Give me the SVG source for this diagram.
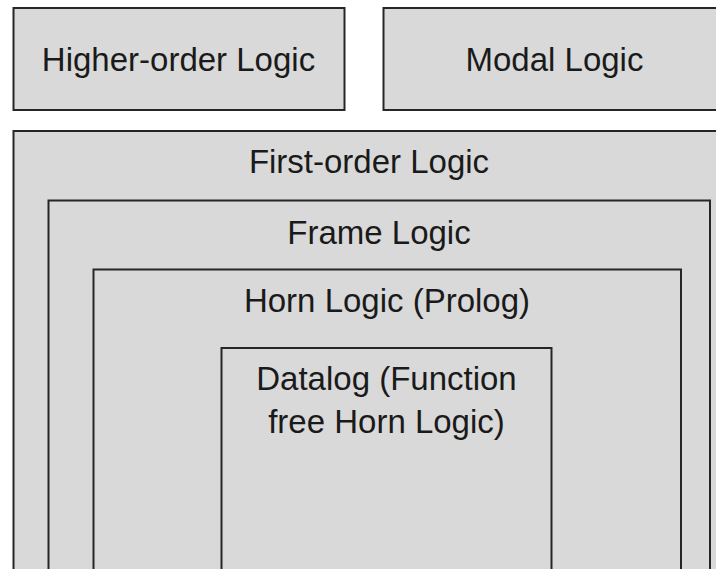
<svg xmlns="http://www.w3.org/2000/svg" width="716" height="569" viewBox="0 0 716 569">
  <style>
    .box { fill: #d9d9d9; stroke: #262626; stroke-width: 2; }
    .label { font-family: "Liberation Sans", Arial, sans-serif; font-size: 33px; fill: #1a1a1a; text-anchor: middle; }
  </style>
  <rect width="716" height="569" fill="#ffffff"/>

  <g id="higher-order-logic">
    <rect class="box" x="13.5" y="8" width="331" height="102"/>
    <text class="label" x="178.5" y="71">Higher-order Logic</text>
  </g>

  <g id="modal-logic">
    <rect class="box" x="383.5" y="8" width="345" height="102"/>
    <text class="label" x="554.5" y="71">Modal Logic</text>
  </g>

  <g id="first-order-logic">
    <rect class="box" x="13.5" y="131" width="715" height="460"/>
    <text class="label" x="369" y="173">First-order Logic</text>
  </g>

  <g id="frame-logic">
    <rect class="box" x="48.5" y="200.5" width="661.5" height="390"/>
    <text class="label" x="379" y="243.5">Frame Logic</text>
  </g>

  <g id="horn-logic">
    <rect class="box" x="93.5" y="269.5" width="587.5" height="320"/>
    <text class="label" x="387" y="312">Horn Logic (Prolog)</text>
  </g>

  <g id="datalog">
    <rect class="box" x="221.5" y="348" width="330" height="240"/>
    <text class="label" x="386.5" y="390">Datalog (Function</text>
    <text class="label" x="386.5" y="433">free Horn Logic)</text>
  </g>

  <g id="connectors"/>
</svg>
